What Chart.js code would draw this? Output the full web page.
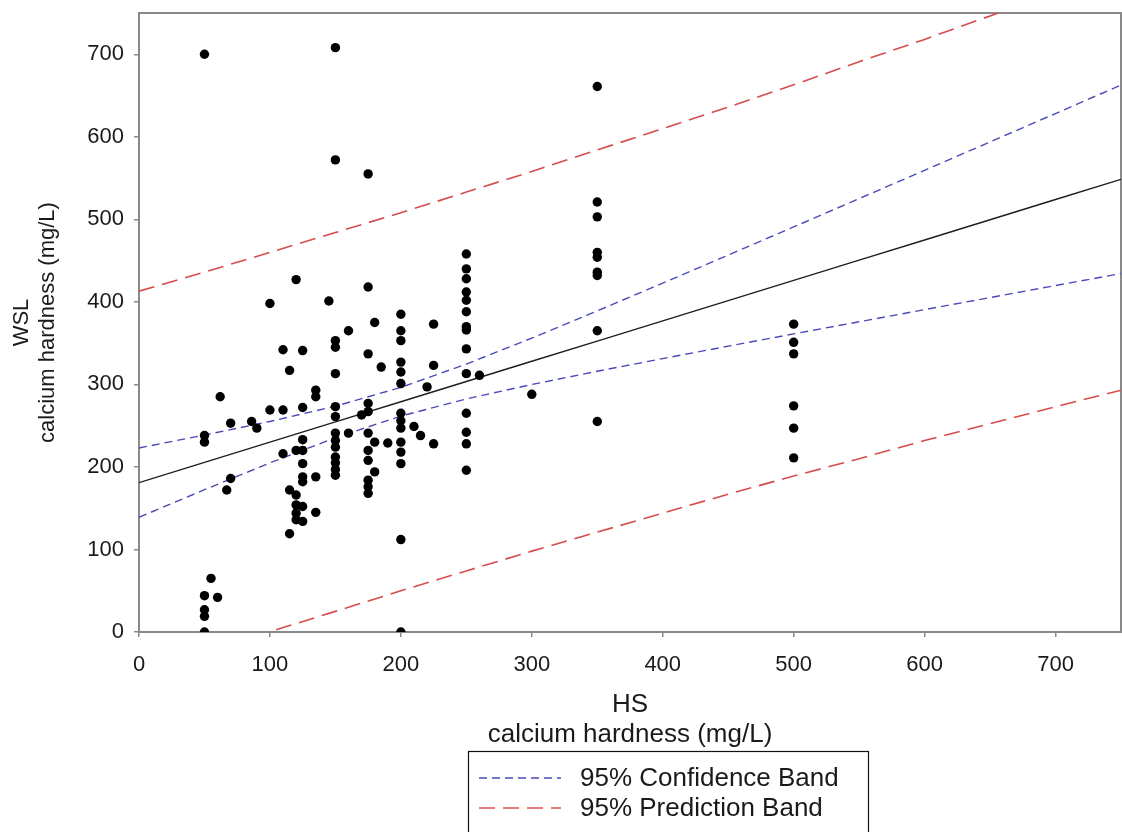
<!DOCTYPE html>
<html><head><meta charset="utf-8">
<script src="https://cdn.jsdelivr.net/npm/chart.js@4.4.1/dist/chart.umd.min.js"></script>
<style>html,body{margin:0;padding:0;background:#fff;overflow:hidden}</style>
</head><body>
<canvas id="c" width="1122" height="832" style="display:block"></canvas>
<script>
// Observed points (HS calcium hardness, WSL calcium hardness)
const hsValues = [
  50,50,50,50,50,50,50, 55,60,62,67,70,70,86,90,
  100,100, 110,110,110, 115,115,115,
  120,120,120,120,120,120,
  125,125,125,125,125,125,125,125,125,
  135,135,135,135, 145,
  150,150,150,150,150,150,150,150,150,150,150,150,150,150,
  160,160, 170,
  175,175,175,175,175,175,175,175,175,175,175,
  180,180,180, 185, 190,
  200,200,200,200,200,200,200,200,200,200,200,200,200,200,
  210,215,220,225,225,225,
  250,250,250,250,250,250,250,250,250,250,250,250,250,250,
  260,300,
  350,350,350,350,350,350,350,350,350,
  500,500,500,500,500,500
];
const wslValues = [
  700,238,230,44,27,19,0, 65,42,285,172,186,253,255,247,
  398,269, 342,269,216, 317,172,119,
  427,220,166,154,144,136,
  341,272,233,220,204,188,182,152,134,
  293,285,188,145, 401,
  708,572,353,345,313,273,261,241,232,224,212,205,197,190,
  365,241, 263,
  555,418,337,277,267,241,220,208,184,176,168,
  375,230,194, 321, 229,
  385,365,353,327,315,301,265,256,247,230,218,204,112,0,
  249,238,297,373,323,228,
  458,440,428,412,402,388,370,366,343,313,265,242,228,196,
  311,288,
  661,521,503,460,454,436,432,365,255,
  373,351,337,274,247,211
];
// Regression line and bands, read at these HS values
const bandX      = [0,50,100,150,200,250,300,350,400,450,500,550,600,650,700,750];
const fitLine    = [181,205.5,230,254.5,279,303.5,328,352.5,377,401.5,426,450.5,475,499.5,524,548.5];
const confUpper  = [223,238.6,255.1,273.6,296.4,324.6,356.1,389.1,422.7,456.7,490.8,525.1,559.4,593.8,628.2,662.7];
const confLower  = [139,172.4,204.9,235.4,261.6,282.4,299.9,315.9,331.3,346.3,361.2,375.9,390.6,405.2,419.8,434.3];
const predUpper  = [413,436,460,484,508,533,558,584,610,636,663,691,718,746.5,775,804];
const predLower  = [-51,-25,0.3,25,50,74,98,121,144,167,189,210,232,252.5,273,293];
const xTicks = [0,100,200,300,400,500,600,700];
const yTicks = [0,100,200,300,400,500,600,700];
const legendLabels = ['95% Confidence Band','95% Prediction Band'];

const FONT = "'Liberation Sans', Arial, sans-serif";
const BLUE = '#4a4ab8';
const RED = '#d64c4c';
const pts = hsValues.map((x,i)=>({x:x,y:wslValues[i]}));
const toPts = arr => bandX.map((x,i)=>({x:x,y:arr[i]}));

const lineDs = (data, color, dash, width, order) => ({
  data: toPts(data), showLine:true, borderColor:color, borderDash:dash,
  borderWidth:width, pointRadius:0, fill:false, tension:0, order:order
});

const framePlugin = {
  id:'frame',
  beforeDatasetsDraw(chart){
    const {ctx, chartArea:a} = chart;
    ctx.save();
    ctx.strokeStyle = '#8a8a8a';
    ctx.lineWidth = 2;
    ctx.strokeRect(a.left, a.top, a.right - a.left, a.bottom - a.top);
    ctx.restore();
  }
};

const legendPlugin = {
  id:'boxLegend',
  afterDraw(chart){
    const ctx = chart.ctx;
    ctx.save();
    ctx.strokeStyle = '#111';
    ctx.lineWidth = 1.2;
    ctx.strokeRect(468.5, 751.5, 400, 100);
    const rows = [{y:778, c:BLUE, d:[8,5], w:1.4},{y:808, c:RED, d:[16,8], w:1.6}];
    rows.forEach((r,i)=>{
      ctx.beginPath();
      ctx.setLineDash(r.d);
      ctx.strokeStyle = r.c;
      ctx.lineWidth = r.w;
      ctx.moveTo(479, r.y); ctx.lineTo(561, r.y);
      ctx.stroke();
      ctx.setLineDash([]);
      ctx.fillStyle = '#1a1a1a';
      ctx.font = '26px ' + FONT;
      ctx.textBaseline = 'middle';
      ctx.textAlign = 'left';
      ctx.fillText(legendLabels[i], 580, r.y + 1);
    });
    ctx.restore();
  }
};

new Chart(document.getElementById('c'), {
  type:'scatter',
  data:{datasets:[
    {data:pts, pointRadius:4.7, pointBackgroundColor:'#000', pointBorderWidth:0, showLine:false, order:0},
    lineDs(fitLine, '#1e1e1e', [], 1.4, 1),
    lineDs(confUpper, BLUE, [8,5], 1.4, 2),
    lineDs(confLower, BLUE, [8,5], 1.4, 3),
    lineDs(predUpper, RED, [16,8], 1.6, 4),
    lineDs(predLower, RED, [16,8], 1.6, 5)
  ]},
  options:{
    responsive:false, animation:false, devicePixelRatio:1,
    layout:{autoPadding:false, padding:{left:0, right:1, top:13, bottom:82}},
    plugins:{legend:{display:false}, tooltip:{enabled:false}},
    scales:{
      x:{
        type:'linear', min:0, max:750,
        afterBuildTicks: s => { s.ticks = xTicks.map(v=>({value:v})); },
        afterFit: s => { s.height = 118; s.paddingLeft = 0; s.paddingRight = 0; },
        grid:{drawOnChartArea:false, drawTicks:true, tickLength:5, color:'#8a8a8a', lineWidth:1.5},
        border:{display:true, color:'#8a8a8a', width:2},
        ticks:{padding:15, color:'#1a1a1a', font:{family:FONT, size:22}, maxRotation:0},
        title:{display:true, text:['HS','calcium hardness (mg/L)'], color:'#1a1a1a',
               font:{family:FONT, size:26, lineHeight:'30px'}, padding:{top:0, bottom:0}}
      },
      y:{
        type:'linear', min:0, max:750,
        afterBuildTicks: s => { s.ticks = yTicks.map(v=>({value:v})); },
        afterFit: s => { s.width = 139; s.paddingTop = 0; s.paddingBottom = 0; },
        grid:{drawOnChartArea:false, drawTicks:true, tickLength:5, color:'#8a8a8a', lineWidth:1.5},
        border:{display:true, color:'#8a8a8a', width:2},
        ticks:{padding:10, color:'#1a1a1a', font:{family:FONT, size:22}},
        title:{display:true, text:['WSL','calcium hardness (mg/L)'], color:'#1a1a1a',
               font:{family:FONT, size:22, lineHeight:'26px'}, padding:{top:9, bottom:0}}
      }
    }
  },
  plugins:[framePlugin, legendPlugin]
});
</script>
</body></html>
